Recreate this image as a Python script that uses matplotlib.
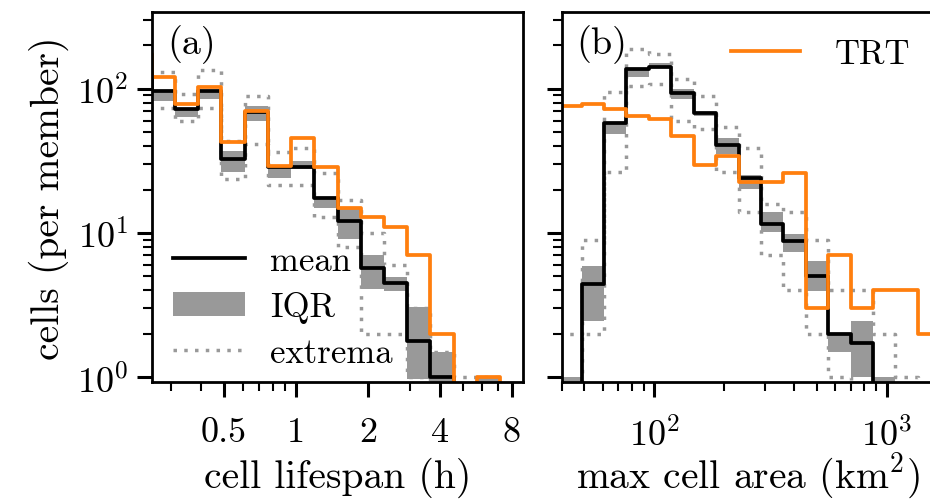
import numpy as np
import matplotlib
matplotlib.use('Agg')
import matplotlib.pyplot as plt
from matplotlib.lines import Line2D
from matplotlib.patches import Patch
from matplotlib.ticker import FixedLocator, FuncFormatter, LogLocator, NullFormatter

# Computer Modern look for all text
plt.rcParams['font.family'] = 'serif'
plt.rcParams['font.serif'] = ['cmr10']
plt.rcParams['mathtext.fontset'] = 'cm'
plt.rcParams['axes.formatter.use_mathtext'] = True
plt.rcParams['font.size'] = 26
plt.rcParams['axes.linewidth'] = 2.0

LABEL_SIZE = 28.5
LEGEND_SIZE = 25
GREY = '0.6'
ORANGE = '#ff7f0e'
DOTS = (0, (1, 2.1))

# --- (a) cell lifespan histogram, log bins (first bin lies left of the axis) ---
lifespan_edges = np.logspace(np.log10(0.2), np.log10(8.92), 18)
lifespan_trt = [175, 120, 79, 103, 43, 70.6, 29.3, 45.5, 28.6, 14.9, 12.9, 11.0, 7.0, 2.0, 0, 1.0, 0]
lifespan_mean = [130, 96, 73, 97, 32.6, 69.5, 28.6, 28.6, 17.4, 12.2, 5.7, 4.5, 1.79, 1.0, 0, 0.3, 0]
lifespan_q75 = [97, 97, 74, 98, 37.2, 76, 28.6, 31.8, 17.4, 14.6, 7.0, 4.96, 3.06, 1.49, 0, 1.0, 0]
lifespan_q25 = [83, 83, 64.3, 85, 26.7, 60, 24, 27.8, 14.9, 9.1, 4.1, 3.98, 0.97, 0, 0, 0, 0]
lifespan_max = [131.6, 131.6, 92, 136, 43.7, 89, 36.7, 38.7, 26, 17, 10, 6.0, 3.0, 1.5, 1.0, 1.0, 0]
lifespan_min = [73.6, 73.6, 60.2, 73.6, 23.7, 41.5, 21.6, 21.6, 12.9, 8.0, 2.0, 2.0, 1.0, 0, 0, 0, 0]

# --- (b) max cell area histogram ---
area_edges = np.logspace(1.591, 1.591 + 0.0965 * 17, 18)
area_trt = [75.7, 78, 73, 64.5, 61.5, 47, 29.8, 34.1, 22.7, 22.7, 26.0, 3.0, 7.0, 3.0, 4.0, 4.0, 2.0]
area_mean = [0, 4.4, 58, 137, 141, 94, 68, 40.8, 24.1, 11.6, 8.8, 5.07, 2.0, 1.73, 0, 0, 0]
area_q75 = [1.0, 5.94, 58, 137, 150, 99.6, 69.5, 45.3, 25.3, 13.9, 9.9, 6.44, 2.0, 2.47, 1.0, 0, 0]
area_q25 = [0, 2.47, 48.5, 120, 139, 85, 65, 35.4, 20.2, 10.1, 7.4, 3.98, 1.49, 1.0, 0, 0, 0]
area_max = [2.0, 8.9, 95, 188, 175, 117, 89, 54, 38.7, 15.9, 13.9, 8.9, 4.0, 4.0, 2.0, 1.0, 0]
area_min = [0, 2.0, 26.7, 104, 108, 60, 53, 26.4, 13.9, 7.0, 4.0, 2.0, 1.0, 0, 0, 0, 0]


def ext(v):
    v = np.asarray(v, dtype=float)
    return np.append(v, v[-1])


def draw_panel(ax, edges, q25, q75, lo, hi, mean, trt):
    ax.fill_between(edges, ext(q25), ext(q75), step='post', color=GREY, lw=0)
    ax.step(edges, ext(lo), where='post', color=GREY, lw=2.5, ls=DOTS)
    ax.step(edges, ext(hi), where='post', color=GREY, lw=2.5, ls=DOTS)
    ax.step(edges, ext(mean), where='post', color='k', lw=2.7)
    ax.step(edges, ext(trt), where='post', color=ORANGE, lw=2.7, label='TRT')


fig = plt.figure(figsize=(9.3, 5.02), dpi=100)
ax_a = fig.add_axes([0.1631, 0.2365, 0.3996, 0.7382])
ax_b = fig.add_axes([0.6040, 0.2365, 0.3996, 0.7382], sharey=ax_a)

draw_panel(ax_a, lifespan_edges, lifespan_q25, lifespan_q75, lifespan_min,
           lifespan_max, lifespan_mean, lifespan_trt)
draw_panel(ax_b, area_edges, area_q25, area_q75, area_min,
           area_max, area_mean, area_trt)

for ax in (ax_a, ax_b):
    ax.set_xscale('log')
    ax.set_yscale('log')
    ax.tick_params(which='major', length=10.8, width=2.2, pad=6)
    ax.tick_params(which='minor', length=6.2, width=1.5)
    ax.tick_params(axis='x', which='major', pad=14)

ax_a.set_ylim(0.923, 343)
ax_a.set_xlim(0.25, 8.92)
ax_b.set_xlim(40, 1590)

ax_a.xaxis.set_major_locator(FixedLocator([0.5, 1, 2, 4, 8]))
ax_a.xaxis.set_major_formatter(FuncFormatter(lambda v, p: '%g' % v))
ax_a.xaxis.set_minor_locator(LogLocator(subs=np.arange(2, 10)))
ax_a.xaxis.set_minor_formatter(NullFormatter())
ax_b.xaxis.set_minor_formatter(NullFormatter())
ax_b.tick_params(axis='y', which='both', labelleft=False)

ax_a.set_ylabel('cells (per member)', fontsize=LABEL_SIZE, labelpad=6)
ax_a.set_xlabel('cell lifespan (h)', fontsize=LABEL_SIZE, va='baseline')
ax_b.set_xlabel(r'max cell area (km$^2$)', fontsize=LABEL_SIZE, va='baseline')
# both x labels sit on a common baseline
for ax in (ax_a, ax_b):
    ax.xaxis.set_label_coords(0.5, -0.282)

ax_a.text(0.043, 0.913, '(a)', transform=ax_a.transAxes, va='center',
          fontsize=LABEL_SIZE - 1)
ax_b.text(0.04, 0.913, '(b)', transform=ax_b.transAxes, va='center',
          fontsize=LABEL_SIZE - 1)

handles = [Line2D([], [], color='k', lw=2.7),
           Patch(facecolor=GREY, edgecolor='none'),
           Line2D([], [], color=GREY, lw=2.5, ls=DOTS)]
ax_a.legend(handles, ['mean', 'IQR', 'extrema'], loc='lower left',
            fontsize=LEGEND_SIZE, frameon=False, handlelength=2.07,
            handletextpad=0.72, labelspacing=0.42, borderaxespad=0,
            bbox_to_anchor=(0.02, -0.003))
ax_b.legend(loc='upper right', fontsize=LEGEND_SIZE, frameon=False,
            handlelength=2.0, handletextpad=1.0, borderaxespad=0,
            bbox_to_anchor=(0.975, 0.9655))

fig.savefig('out.png', dpi=100)
